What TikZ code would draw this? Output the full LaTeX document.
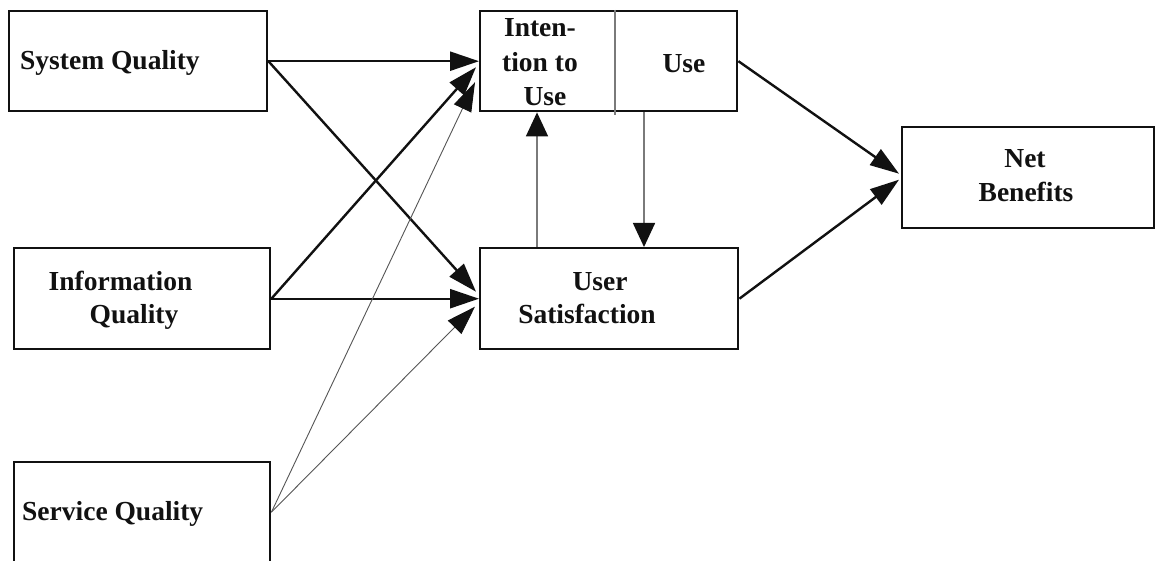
\documentclass[tikz,border=0pt]{standalone}
\usepackage{fontspec}
\setmainfont{Liberation Serif}
\usetikzlibrary{arrows.meta,calc}
\definecolor{ink}{HTML}{111111}
\definecolor{thinline}{HTML}{555555}
\definecolor{vline}{HTML}{7A7A7A}
\tikzset{
  box/.style={draw=ink, line width=2.4pt, rectangle, inner sep=0pt, anchor=north west},
  lbl/.style={inner sep=0pt, text=ink, font=\fontsize{27.5}{33}\selectfont\bfseries},
  thk/.style={draw=ink, line width=2.4pt, -{Triangle[length=29pt,width=19pt]}},
  thn/.style={draw=thinline, line width=0.9pt, -{Triangle[length=29pt,width=19pt,color=ink]}},
  vert/.style={draw=vline, line width=1.6pt, -{Triangle[length=24pt,width=22pt,color=ink]}},
  divider/.style={draw=vline, line width=1.6pt}
}
\begin{document}
\begin{tikzpicture}[x=1pt,y=-1pt]
\useasboundingbox (0,0) rectangle (1155,561);
\fill[white] (0,0) rectangle (1155,561);
% boxes
\node[box, minimum width=258pt, minimum height=100pt] (sq) at (8,10) {};
\node[box, minimum width=256pt, minimum height=101pt] (iq) at (13,247) {};
\node[box, minimum width=256pt, minimum height=100pt] (svq) at (13,461) {};
\node[box, minimum width=257pt, minimum height=100pt] (itu) at (479,10) {};
\node[box, minimum width=258pt, minimum height=101pt] (us) at (479,247) {};
\node[box, minimum width=252pt, minimum height=101pt] (nb) at (901,126) {};
% labels
\node[lbl, anchor=base west] (sqt) at (20,70) {System Quality};
\node[lbl, anchor=base] (iqt1) at (120.5,290) {Information};
\node[lbl, anchor=base] (iqt2) at (134,323) {Quality};
\node[lbl, anchor=base west] (svqt) at (22,520) {Service Quality};
\node[lbl, anchor=base] (itut1) at (540,37) {Inten-};
\node[lbl, anchor=base] (itut2) at (540,72) {tion to};
\node[lbl, anchor=base] (itut3) at (545,106) {Use};
\node[lbl, anchor=base] (uset) at (684,73) {Use};
\node[lbl, anchor=base] (ust1) at (600,290) {User};
\node[lbl, anchor=base] (ust2) at (587,323) {Satisfaction};
\node[lbl, anchor=base] (nbt1) at (1025,168) {Net};
\node[lbl, anchor=base] (nbt2) at (1026,202) {Benefits};
% divider in the Intention/Use box
\draw[divider] ($(itu.north west)+(136,0)$) -- ($(itu.south west)+(136,3)$);
% connectors
\draw[thk] (sq.east) -- (itu.west);
\draw[thk] (sq.east) -- ($(us.west)+(-3,-7)$);
\draw[thk] (iq.east) -- ($(itu.west)+(-3,6)$);
\draw[thk] (iq.east) -- (us.west);
\draw[thn] (svq.east) -- ($(itu.west)+(-4,21)$);
\draw[thn] (svq.east) -- ($(us.west)+(-4,8)$);
\draw[vert] ($(us.north west)+(58,0)$) -- ($(itu.south west)+(58,0)$);
\draw[vert] ($(itu.south west)+(165,0)$) -- ($(us.north west)+(165,0)$);
\draw[thk] (itu.east) -- ($(nb.west)+(-2,-4)$);
\draw[thk] (us.east) -- ($(nb.west)+(-2,2)$);
\end{tikzpicture}
\end{document}
